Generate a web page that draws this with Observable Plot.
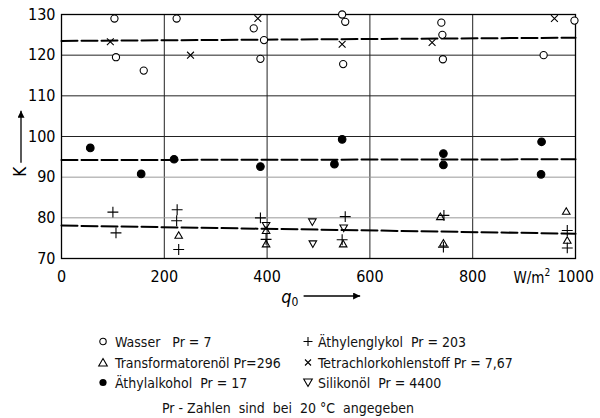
<!DOCTYPE html>
<html><head><meta charset="utf-8">
<script src="https://cdn.jsdelivr.net/npm/d3@7"></script>
<script src="https://cdn.jsdelivr.net/npm/@observablehq/plot@0.6"></script>
<style>
body{margin:0;background:#fff;width:600px;height:418px;position:relative;overflow:hidden;font-family:"Liberation Sans Narrow","DejaVu Sans Condensed",sans-serif;color:#111;}
#chart{position:absolute;left:0;top:0}
.leg{position:absolute;font-size:14px;white-space:pre;line-height:1;transform:translateY(-50%)}
.sym{position:absolute;transform:translate(-50%,-50%)}
</style></head><body>
<div id="chart"></div>
<div id="legend"></div>
<script>
// ---- data (q0 in W/m², K) ----
const wasser  = [[103,129],[106,119.5],[160,116.2],[224,129],[374,126.6],[394,123.7],[387,119.1],[546,130],[552,128.2],[548,117.8],[739,128],[741,125],[742,119],[938,120],[998,128.5]];
const tetra   = [[95,123.3],[251,120],[382,129],[546,122.7],[721,123.1],[959,129]];
const alkohol = [[56,97.2],[155,90.8],[219,94.4],[387,92.6],[531,93.2],[546,99.3],[743,95.8],[743,93],[934,98.7],[933,90.7]];
const glykol  = [[100,81.4],[106,76.3],[225,82],[224,79.3],[228,72.2],[387,80],[398,74.7],[552,80.3],[546,74.6],[744,80.6],[743,72.8],[984,76.9],[984,72.6]];
const trafo   = [[228,75.5],[398,76.7],[398,73.4],[548,73.4],[737,80.1],[743,73.6],[982,81.4],[984,74.3]];
const silikon = [[398,78.3],[488,79.2],[489,73.8],[549,77.7]];
const fitHigh = [[0,123.5],[1000,124.3]];
const fitMid  = [[0,94.2],[1000,94.4]];
const fitLow  = [[0,78.1],[1000,76.1]];
const xTicks = [0,200,400,600,800,1000];
const yTicks = [70,80,90,100,110,120,130];
const gridX = [200,400,600,800];
const gridYDark = [100,110,120];
const gridYLight = [80,90];
const legendItems = [
  {sym:"circle", text:"Wasser   Pr = 7"},
  {sym:"plus", text:"Äthylenglykol  Pr = 203"},
  {sym:"triangle", text:"Transformatorenöl Pr=296"},
  {sym:"times", text:"Tetrachlorkohlenstoff Pr = 7,67"},
  {sym:"dot", text:"Äthylalkohol  Pr = 17"},
  {sym:"tridown", text:"Silikonöl  Pr = 4400"}
];
const footer = "Pr - Zahlen  sind  bei  20 °C  angegeben";

const FONT = '"Liberation Sans Narrow","DejaVu Sans Condensed",sans-serif';
const px = d => d[0], py = d => d[1];
const dotOpts = {x: px, y: py, stroke: "black", strokeWidth: 1.1, fill: "none"};

const chart = Plot.plot({
  width: 600, height: 310,
  marginLeft: 61, marginRight: 25, marginTop: 14, marginBottom: 52,
  style: {fontFamily: FONT, fontSize: "16px", color: "black", background: "white"},
  x: {domain: [0,1000]},
  y: {domain: [70,130]},
  marks: [
    Plot.ruleX(gridX, {stroke: "#222", strokeWidth: 1}),
    Plot.ruleY(gridYDark, {stroke: "#222", strokeWidth: 1}),
    Plot.ruleY(gridYLight, {stroke: "#999", strokeWidth: 1}),
    Plot.frame({stroke: "black", strokeWidth: 1.3}),
    Plot.line(fitHigh, {x: px, y: py, stroke: "black", strokeWidth: 2, strokeDasharray: "16,4"}),
    Plot.line(fitMid,  {x: px, y: py, stroke: "black", strokeWidth: 2, strokeDasharray: "16,4"}),
    Plot.line(fitLow,  {x: px, y: py, stroke: "black", strokeWidth: 2, strokeDasharray: "16,4"}),
    Plot.dot(wasser,  {...dotOpts, symbol: "circle", r: 3.6, fill: "white"}),
    Plot.dot(tetra,   {...dotOpts, symbol: "times", r: 3.2}),
    Plot.dot(alkohol, {...dotOpts, symbol: "circle", r: 3.8, fill: "black"}),
    Plot.dot(glykol,  {...dotOpts, symbol: "plus", r: 3.6}),
    Plot.dot(trafo,   {...dotOpts, symbol: "triangle2", r: 3.6}),
    Plot.dot(silikon, {...dotOpts, symbol: "triangle2", r: 3.6, rotate: 180}),
    Plot.axisX({ticks: xTicks, tickSize: 0, tickPadding: 12, fontSize: 16, label: null, tickFormat: d3.format("d")}),
    Plot.axisY({ticks: yTicks, tickSize: 0, tickPadding: 6, fontSize: 16, label: null})
  ]
});
document.getElementById("chart").appendChild(chart);

// annotations: axis names with arrows, unit
const xS = chart.scale("x"), yS = chart.scale("y");
const svg = d3.select(chart);
const defs = svg.append("defs");
defs.append("marker").attr("id","ah").attr("viewBox","0 0 10 10").attr("refX",10).attr("refY",5)
  .attr("markerWidth",9).attr("markerHeight",7).attr("markerUnits","userSpaceOnUse").attr("orient","auto")
  .append("path").attr("d","M0,0L10,5L0,10Z").attr("fill","black");
const left = xS.apply(0), bottom = yS.apply(70);
// K label
const kX = left - 40;
svg.append("text").attr("transform",`translate(${kX + 5},${yS.apply(91.2)}) rotate(-90)`)
  .attr("text-anchor","middle").attr("font-size",17).attr("font-family",FONT).text("K");
svg.append("line").attr("x1",kX).attr("x2",kX).attr("y1",yS.apply(93.4)).attr("y2",yS.apply(106.2))
  .attr("stroke","black").attr("stroke-width",1.3).attr("marker-end","url(#ah)");
// q0 label
const qX = xS.apply(445), qY = bottom + 45;
const qt = svg.append("text").attr("x",qX).attr("y",qY).attr("text-anchor","middle").attr("font-family",FONT).attr("font-size",18);
qt.append("tspan").attr("font-style","italic").text("q");
qt.append("tspan").attr("font-size",12).attr("dy",3).text("0");
svg.append("line").attr("x1",xS.apply(472)).attr("x2",xS.apply(582)).attr("y1",qY-7).attr("y2",qY-7)
  .attr("stroke","black").attr("stroke-width",1.3).attr("marker-end","url(#ah)");
// unit
const ut = svg.append("text").attr("x",xS.apply(916)).attr("y",bottom+24.5).attr("text-anchor","middle").attr("font-family",FONT).attr("font-size",15);
ut.append("tspan").text("W/m");
ut.append("tspan").attr("font-size",10).attr("dy",-7).text("2");

// legend
function symSvg(kind){
  const s = 12, c = 6;
  let inner = "";
  if (kind==="circle") inner = `<circle cx="${c}" cy="${c}" r="3.2" fill="none" stroke="black" stroke-width="1.1"/>`;
  if (kind==="dot") inner = `<circle cx="${c}" cy="${c}" r="3.6" fill="black"/>`;
  if (kind==="plus") inner = `<path d="M${c-4.5},${c}H${c+4.5}M${c},${c-4.5}V${c+4.5}" stroke="black" stroke-width="1.1"/>`;
  if (kind==="times") inner = `<path d="M${c-3},${c-3}L${c+3},${c+3}M${c+3},${c-3}L${c-3},${c+3}" stroke="black" stroke-width="1.1"/>`;
  if (kind==="triangle") inner = `<path d="M${c},${c-4}L${c+4.3},${c+3.5}H${c-4.3}Z" fill="none" stroke="black" stroke-width="1.1"/>`;
  if (kind==="tridown") inner = `<path d="M${c},${c+4}L${c+4.3},${c-3.5}H${c-4.3}Z" fill="none" stroke="black" stroke-width="1.1"/>`;
  return `<svg width="${s}" height="${s}">${inner}</svg>`;
}
const leg = document.getElementById("legend");
const colSym = [103, 308], colText = [115, 318], rowY = [341.5, 363, 382.5];
legendItems.forEach((it,i)=>{
  const col = i % 2, row = Math.floor(i/2);
  const s = document.createElement("div"); s.className="sym";
  s.style.left = colSym[col]+"px"; s.style.top = rowY[row]+"px"; s.innerHTML = symSvg(it.sym);
  leg.appendChild(s);
  const t = document.createElement("div"); t.className="leg";
  t.style.left = colText[col]+"px"; t.style.top = rowY[row]+"px"; t.textContent = it.text;
  leg.appendChild(t);
});
const f = document.createElement("div"); f.className="leg";
f.style.left="288px"; f.style.top="408px"; f.style.transform="translate(-50%,-50%)"; f.textContent = footer;
leg.appendChild(f);
</script>
</body></html>
